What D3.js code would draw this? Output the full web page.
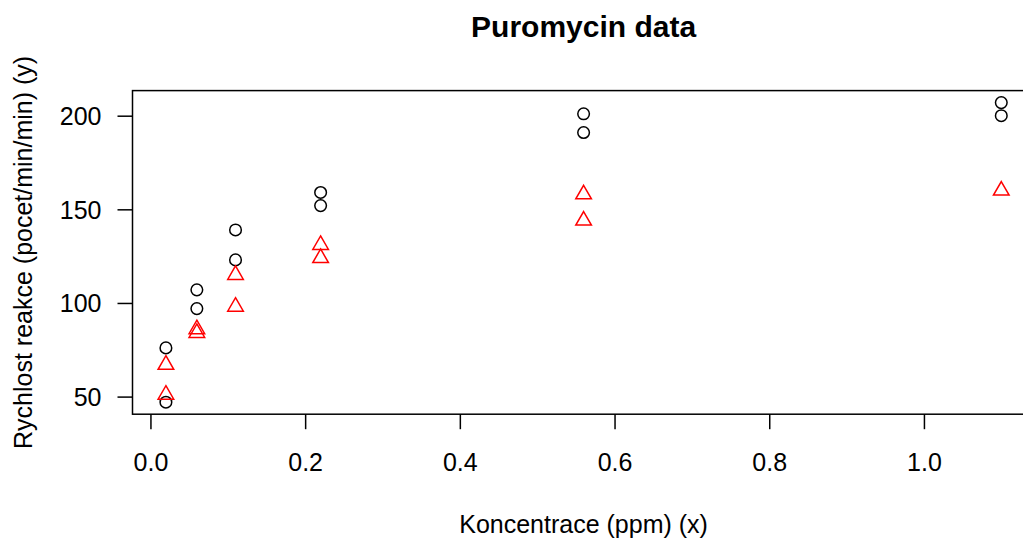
<!DOCTYPE html>
<html>
<head>
<meta charset="utf-8">
<script src="https://cdn.jsdelivr.net/npm/d3@7"></script>
<style>
  body { margin: 0; background: #fff; }
  svg { display: block; font-family: "Liberation Sans", Arial, Helvetica, sans-serif; }
</style>
</head>
<body>
<svg id="chart" width="1023" height="540"></svg>
<script>
// Puromycin: treated (black circles) and untreated (red triangles)
const treatedConc = [0.02, 0.02, 0.06, 0.06, 0.11, 0.11, 0.22, 0.22, 0.56, 0.56, 1.10, 1.10];
const treatedRate = [76, 47, 97, 107, 123, 139, 159, 152, 191, 201, 207, 200];
const untreatedConc = [0.02, 0.02, 0.06, 0.06, 0.11, 0.11, 0.22, 0.22, 0.56, 0.56, 1.10];
const untreatedRate = [67, 51, 84, 86, 98, 115, 131, 124, 144, 158, 160];
const xTicks = [0, 0.2, 0.4, 0.6, 0.8, 1.0];
const yTicks = [50, 100, 150, 200];

const svg = d3.select("#chart");
const plot = { left: 132.5, right: 1034.7, top: 90.6, bottom: 414.2 };

// R style 4% extension of data range
const allX = treatedConc.concat(untreatedConc);
const allY = treatedRate.concat(untreatedRate);
const [xmin, xmax] = d3.extent(allX);
const [ymin, ymax] = d3.extent(allY);
const xpad = (xmax - xmin) * 0.04, ypad = (ymax - ymin) * 0.04;

const x = d3.scaleLinear().domain([xmin - xpad, xmax + xpad]).range([plot.left, plot.right]);
const y = d3.scaleLinear().domain([ymin - ypad, ymax + ypad]).range([plot.bottom, plot.top]);

const lw = 1.5;

// box
svg.append("rect")
  .attr("x", plot.left).attr("y", plot.top)
  .attr("width", plot.right - plot.left).attr("height", plot.bottom - plot.top)
  .attr("fill", "none").attr("stroke", "#000").attr("stroke-width", lw);

// x axis
const gx = svg.append("g")
  .attr("transform", `translate(0,${plot.bottom})`)
  .call(d3.axisBottom(x).tickValues(xTicks).tickFormat(d3.format(".1f")).tickSize(15).tickPadding(0).tickSizeOuter(0));
gx.select(".domain").remove();
gx.selectAll("line").attr("stroke-width", lw);
gx.selectAll("text")
  .attr("y", 57).attr("dy", null)
  .attr("font-size", 25).attr("fill", "#000");

// y axis
const gy = svg.append("g")
  .attr("transform", `translate(${plot.left},0)`)
  .call(d3.axisLeft(y).tickValues(yTicks).tickSize(15).tickPadding(0).tickSizeOuter(0));
gy.select(".domain").remove();
gy.selectAll("line").attr("stroke-width", lw);
gy.selectAll("text")
  .attr("x", -31).attr("dy", "0.35em")
  .attr("font-size", 25).attr("fill", "#000");

// titles
svg.append("text")
  .attr("x", (plot.left + plot.right) / 2).attr("y", 37)
  .attr("text-anchor", "middle").attr("font-size", 30).attr("font-weight", "bold")
  .text("Puromycin data");

svg.append("text")
  .attr("x", (plot.left + plot.right) / 2).attr("y", 533)
  .attr("text-anchor", "middle").attr("font-size", 25)
  .text("Koncentrace (ppm) (x)");

svg.append("text")
  .attr("transform", `translate(32,${(plot.top + plot.bottom) / 2}) rotate(-90)`)
  .attr("text-anchor", "middle").attr("font-size", 25)
  .text("Rychlost reakce (pocet/min/min) (y)");

// points
const R = 5.8;
svg.append("g").selectAll("circle")
  .data(treatedConc.map((c, i) => ({ c, v: treatedRate[i] })))
  .join("circle")
  .attr("cx", d => x(d.c)).attr("cy", d => y(d.v)).attr("r", R)
  .attr("fill", "none").attr("stroke", "#000").attr("stroke-width", lw);

const tr = 1.5551 * R, txc = 1.3468 * R, tyc = 0.7776 * R;
svg.append("g").selectAll("path")
  .data(untreatedConc.map((c, i) => ({ c, v: untreatedRate[i] })))
  .join("path")
  .attr("d", d => {
    const px = x(d.c), py = y(d.v);
    return `M${px},${py - tr}L${px + txc},${py + tyc}L${px - txc},${py + tyc}Z`;
  })
  .attr("fill", "none").attr("stroke", "#ff0000").attr("stroke-width", lw);
</script>
</body>
</html>
